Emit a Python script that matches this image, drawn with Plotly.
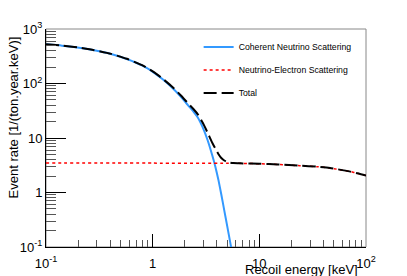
import plotly.graph_objects as go

# Coherent neutrino scattering
energy_coh = [0.1, 0.141, 0.197, 0.283, 0.407, 0.572, 0.82, 1.01, 1.25, 1.55, 1.84, 2.13,
              2.42, 2.64, 2.94, 3.27, 3.63, 3.87, 4.13, 4.40, 4.69, 5.0, 5.33, 5.67]
rate_coh = [523, 495, 457, 406, 347, 281, 208, 162, 118, 81, 57, 40.6,
            30.3, 24.1, 15.8, 9.2, 4.71, 2.97, 1.72, 0.92, 0.471, 0.241, 0.123, 0.063]

# Neutrino-electron scattering
energy_el = [0.1, 1, 5, 7, 10, 15, 24, 35, 46, 70, 85, 100]
rate_el = [3.47, 3.46, 3.44, 3.42, 3.37, 3.27, 3.1, 2.97, 2.81, 2.44, 2.23, 2.04]

# Total
energy_tot = [0.1, 0.141, 0.197, 0.283, 0.407, 0.572, 0.82, 1.01, 1.25, 1.55, 1.84, 2.13,
              2.42, 2.64, 2.94, 3.27, 3.63, 3.87, 4.13, 4.40, 4.69, 5.0, 5.33, 5.67,
              7, 10, 15, 24, 35, 46, 70, 85, 100]
rate_tot = [526, 498, 460, 409, 350, 284, 211, 165, 121, 84.5, 60.3, 44,
            33.7, 27.5, 19.2, 12.6, 8.1, 6.4, 5.1, 4.3, 3.87, 3.64, 3.52, 3.46,
            3.42, 3.37, 3.27, 3.1, 2.97, 2.81, 2.44, 2.23, 2.04]

x_tickvals = [0.1, 1, 10, 100]
x_ticktext = ["10<sup>-1</sup>", "1", "10", "10<sup>2</sup>"]
y_tickvals = [0.1, 1, 10, 100, 1000]
y_ticktext = ["10<sup>-1</sup>", "1", "10", "10<sup>2</sup>", "10<sup>3</sup>"]

FONT = "Liberation Sans, Arial, Helvetica, sans-serif"

fig = go.Figure()
fig.add_trace(go.Scatter(x=energy_coh, y=rate_coh, mode="lines", name="Coherent Neutrino Scattering",
                         legendgroup="a", line=dict(color="#3399ff", width=2, shape="spline", smoothing=0.5)))
fig.add_trace(go.Scatter(x=energy_el, y=rate_el, mode="lines", name="Neutrino-Electron Scattering",
                         legendgroup="b", line=dict(color="#ff0000", width=1.5, dash="dot", shape="spline", smoothing=0.5)))
fig.add_trace(go.Scatter(x=energy_tot, y=rate_tot, mode="lines", name="Total",
                         legendgroup="c", line=dict(color="black", width=2, dash="13px,5px", shape="spline", smoothing=0.5)))

minor_x = [m * 10 ** e for e in (-1, 0, 1) for m in range(2, 10)]
minor_y = [m * 10 ** e for e in (-1, 0, 1, 2) for m in range(2, 10)]

fig.update_layout(
    width=407, height=276,
    margin=dict(l=33, r=49, t=19, b=37),
    plot_bgcolor="white", paper_bgcolor="white",
    font=dict(family=FONT, size=13, color="black"),
    showlegend=True,
    legend=dict(x=0.477, y=0.984, xanchor="left", yanchor="top", bgcolor="rgba(0,0,0,0)",
                borderwidth=0, font=dict(size=8.7, family=FONT), tracegroupgap=4, itemwidth=30),
    xaxis=dict(type="log", range=[-1, 2], tickmode="array", tickvals=x_tickvals, ticktext=x_ticktext,
               ticks="inside", ticklen=13, tickcolor="black", tickwidth=1, ticklabelstandoff=4,
               showline=True, linecolor="black", linewidth=1, showgrid=False, zeroline=False,
               minor=dict(tickvals=minor_x, ticks="inside", ticklen=7, tickcolor="#555", showgrid=False),
               tickfont=dict(size=13)),
    yaxis=dict(type="log", range=[-1, 3], tickmode="array", tickvals=y_tickvals, ticktext=y_ticktext,
               ticks="inside", ticklen=20, tickcolor="black", tickwidth=1,
               showline=True, linecolor="black", linewidth=1, showgrid=False, zeroline=False,
               minor=dict(tickvals=minor_y, ticks="inside", ticklen=10, tickcolor="#555", showgrid=False),
               tickfont=dict(size=13)),
    shapes=[dict(type="rect", xref="paper", yref="paper", x0=0, x1=1, y0=0, y1=1,
                 line=dict(color="#888", width=1), layer="below")],
    annotations=[
        dict(text="Event rate [1/(ton.year.keV)]", xref="paper", yref="paper", x=(8 - 41) / 325, y=1 - 6 / 220,
             xanchor="center", yanchor="top", textangle=-90, showarrow=False, font=dict(size=13)),
        dict(text="Recoil energy [keV]", xref="paper", yref="paper", x=(360 - 41) / 325, y=-(270 - 247) / 220,
             xanchor="right", yanchor="middle", showarrow=False, font=dict(size=13)),
    ],
)

fig.write_html("out.html")
